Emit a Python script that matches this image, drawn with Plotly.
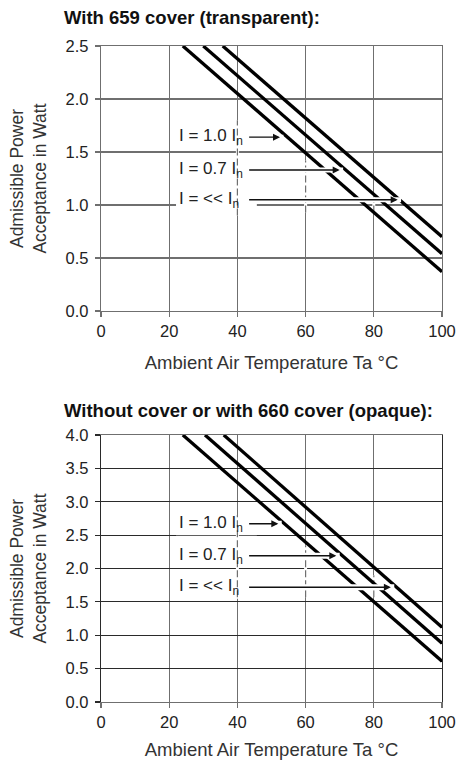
import plotly.graph_objects as go
from plotly.subplots import make_subplots

# ---------------- data ----------------
temp_ticks = [0, 20, 40, 60, 80, 100]
top_power_ticks = [0.0, 0.5, 1.0, 1.5, 2.0, 2.5]
bottom_power_ticks = [0.0, 0.5, 1.0, 1.5, 2.0, 2.5, 3.0, 3.5, 4.0]

series_labels = ["I = 1.0 I<sub>n</sub>", "I = 0.7 I<sub>n</sub>", "I = &lt;&lt; I<sub>n</sub>"]

# With 659 cover (transparent)
top_temp = [[24.0, 100.0], [30.0, 100.0], [35.7, 100.0]]
top_power = [[2.5, 0.37], [2.5, 0.54], [2.5, 0.70]]
top_label_power = [1.64, 1.33, 1.05]
top_arrow_temp = [52.5, 70.0, 87.0]

# Without cover or with 660 cover (opaque)
bottom_temp = [[24.0, 100.0], [30.5, 100.0], [36.0, 100.0]]
bottom_power = [[4.0, 0.61], [4.0, 0.88], [4.0, 1.12]]
bottom_label_power = [2.67, 2.19, 1.72]
bottom_arrow_temp = [52.0, 69.0, 85.0]

label_temp = 22.3
label_box_end_temp = 45.7
arrow_start_temp = 43.0

title_top = "<b>With 659 cover (transparent):</b>"
title_bottom = "<b>Without cover or with 660 cover (opaque):</b>"
x_title = "Ambient Air Temperature Ta °C"
y_title = "Admissible Power<br>Acceptance in Watt"

# ---------------- figure ----------------
FONT = "Liberation Sans, Arial, sans-serif"
TICK_FS = 16.5
LABEL_FS = 17
AXTITLE_FS = 18.5
YTITLE_FS = 17.5
TITLE_FS = 18.5

fig = make_subplots(rows=2, cols=1)

W_TOTAL, H_TOTAL = 458, 760
L, R, T, B = 101, 16, 46, 58
plot_h = H_TOTAL - T - B
plot_w = W_TOTAL - L - R


def yfrac(px):
    return 1 - (px - T) / plot_h


def xfrac(px):
    return (px - L) / plot_w


fig.update_layout(
    width=W_TOTAL, height=H_TOTAL, autosize=False,
    margin=dict(l=L, r=R, t=T, b=B, autoexpand=False),
    paper_bgcolor="white", plot_bgcolor="white",
    showlegend=False,
    font=dict(family=FONT, size=TICK_FS, color="#222"),
)

# row, curves, label rows, arrow tips, ticks, ymax, broken-grid spans,
# vertical grid colour, horizontal grid colour, band width, px per unit (y)
panels = [
    (1, top_temp, top_power, top_label_power, top_arrow_temp, top_power_ticks, 2.5,
     [(40, 0.90, 1.80), (60, 0.93, 1.42), (80, 0.93, 1.10)], "#6f6f6f", "#6f6f6f", 5, 106.0),
    (2, bottom_temp, bottom_power, bottom_label_power, bottom_arrow_temp, bottom_power_ticks, 4.0,
     [(40, 1.57, 2.80), (60, 1.57, 2.35), (80, 1.57, 1.90)], "#6f6f6f", "#2a2a2a", 6, 66.7),
]

domains = {1: [yfrac(311), 1.0], 2: [0.0, yfrac(435)]}

for row, temps, powers, lab_p, arr_t, yticks, ymax, dashed, vcol, hcol, bandw, ppu in panels:
    xref = "x" if row == 1 else "x2"
    yref = "y" if row == 1 else "y2"
    for t, p in zip(temps, powers):
        fig.add_trace(go.Scatter(x=t, y=p, mode="lines",
                                 line=dict(color="black", width=3.3),
                                 hoverinfo="skip"), row=row, col=1)
    fig.update_xaxes(row=row, col=1, range=[0, 100], tickvals=temp_ticks,
                     automargin=False,
                     showgrid=True, gridcolor=vcol, gridwidth=1.2,
                     showline=True, linecolor=vcol, linewidth=1.2, mirror=True,
                     ticks="outside", ticklen=5, tickcolor=vcol, tickwidth=1.2,
                     zeroline=False, tickfont=dict(size=TICK_FS, color="#222"),
                     title=dict(text=x_title, font=dict(size=AXTITLE_FS, color="#333"),
                                standoff=17))
    fig.update_yaxes(row=row, col=1, range=[0, ymax], tickvals=yticks,
                     tickformat=".1f", domain=domains[row], automargin=False,
                     ticklabelstandoff=3,
                     showgrid=True, gridcolor=hcol, gridwidth=1.2,
                     showline=True, linecolor=hcol, linewidth=1.2, mirror=True,
                     ticks="outside", ticklen=5, tickcolor=hcol, tickwidth=1.2,
                     zeroline=False, tickfont=dict(size=TICK_FS, color="#222"),
                     title=dict(text=y_title, font=dict(size=YTITLE_FS, color="#333"),
                                standoff=14))
    # white boxes behind the labels (hide the horizontal grid there)
    for ly in lab_p:
        fig.add_shape(type="rect", xref=xref, yref=yref,
                      x0=label_temp - 0.3, x1=label_box_end_temp,
                      y0=ly - 11.5 / ppu, y1=ly + 8 / ppu,
                      fillcolor="white", line=dict(width=0), layer="between")
    # broken (dashed) look of the vertical grid in the label area
    for gx, y0, y1 in dashed:
        fig.add_shape(type="line", xref=xref, yref=yref, x0=gx, x1=gx, y0=y0, y1=y1,
                      line=dict(color="white", width=3), layer="between")
        fig.add_shape(type="line", xref=xref, yref=yref, x0=gx, x1=gx, y0=y0, y1=y1,
                      line=dict(color=vcol, width=1.2, dash="7px,3px"), layer="between")
    for lab, ly, tip in zip(series_labels, lab_p, arr_t):
        # white band that interrupts the curves where an arrow passes
        fig.add_shape(type="line", xref=xref, yref=yref, x0=arrow_start_temp, x1=tip + 1,
                      y0=ly, y1=ly, line=dict(color="white", width=bandw), layer="above")
        fig.add_annotation(x=label_temp, y=ly, xref=xref, yref=yref, text=lab,
                           showarrow=False, xanchor="left", yanchor="middle",
                           font=dict(size=LABEL_FS, color="#222", family=FONT))
        fig.add_annotation(x=tip, y=ly, ax=arrow_start_temp, ay=ly,
                           xref=xref, yref=yref, axref=xref, ayref=yref,
                           text="", showarrow=True, arrowhead=2, arrowsize=1,
                           arrowwidth=1.4, arrowcolor="#111")

fig.add_annotation(x=xfrac(62), y=yfrac(18), xref="paper", yref="paper", text=title_top,
                   showarrow=False, xanchor="left", yanchor="middle",
                   font=dict(size=TITLE_FS, color="#111", family=FONT))
fig.add_annotation(x=xfrac(62), y=yfrac(410), xref="paper", yref="paper", text=title_bottom,
                   showarrow=False, xanchor="left", yanchor="middle",
                   font=dict(size=TITLE_FS, color="#111", family=FONT))

fig.write_html(
    "out.html",
    config={"responsive": False, "displayModeBar": False, "staticPlot": True},
    post_script="document.body.style.margin='0';document.body.style.overflow='hidden';",
)
